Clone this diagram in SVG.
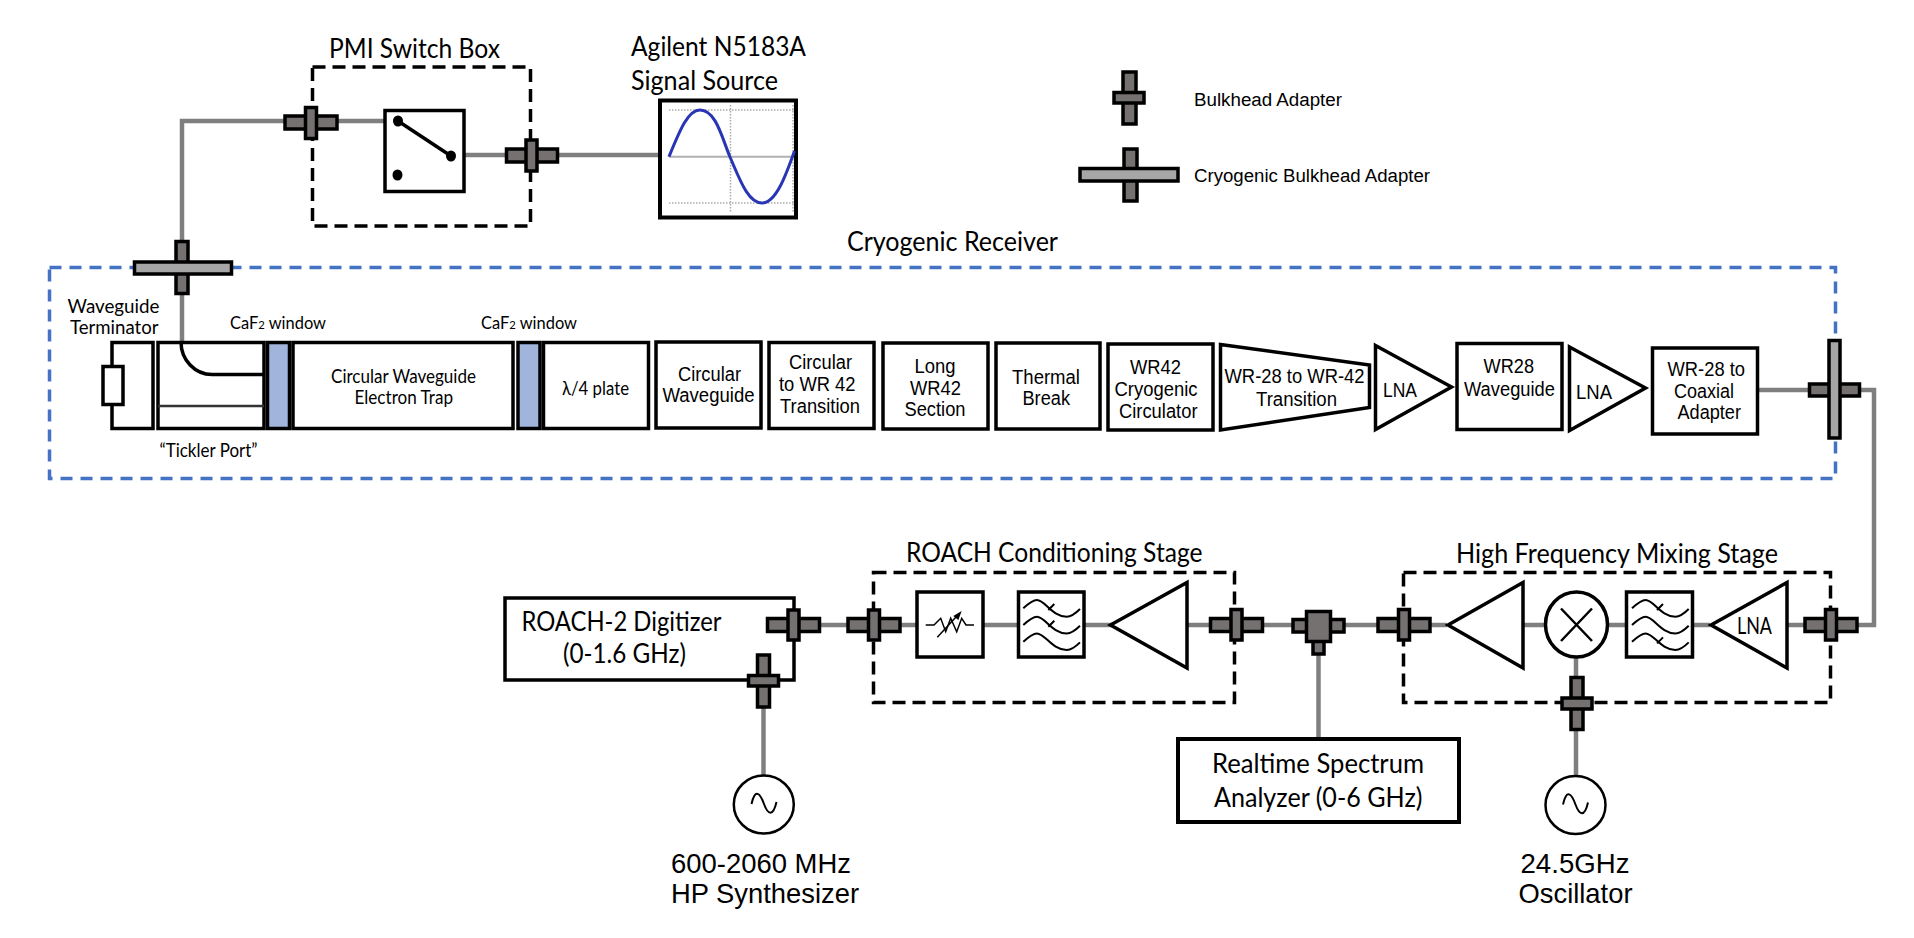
<svg xmlns="http://www.w3.org/2000/svg" width="1914" height="938" viewBox="0 0 1914 938">
<style>
.b{fill:#fff;stroke:#000;stroke-width:3.500}
.t{fill:#fff;stroke:#000;stroke-width:3.500;stroke-linejoin:miter}
.w{fill:#a0b4dc;stroke:#000;stroke-width:3.500}
.d{fill:#767171;stroke:#000;stroke-width:3.500}
.c{fill:#a6a6a6;stroke:#000;stroke-width:3.500}
.l{fill:none;stroke:#7f7f7f;stroke-width:4.500}
.k{fill:none;stroke:#000;stroke-width:3.500}
.k2{fill:none;stroke:#000;stroke-width:2}
.dash{fill:none;stroke:#000;stroke-width:3.500;stroke-dasharray:13 7}
.blue{fill:none;stroke:#4472c4;stroke-width:3.500;stroke-dasharray:12 8}
.grid{fill:none;stroke:#aaa;stroke-width:1.500;stroke-dasharray:1.500 1.500}
text{fill:#000;font-family:"Liberation Sans",Arial,sans-serif;font-size:19.500px}
.cal{font-family:Lato,"Noto Sans",sans-serif}
.lg{font-size:26px}
.md{font-size:19.500px}
.big{font-size:28px}
</style>
<g id="connectors">
<path class="l" d="M311 121H182V341"/>
<path class="l" d="M311 121H384"/>
<path class="l" d="M464 155H660"/>
<path class="l" d="M1758 390H1874V625H1830"/>
<path class="l" d="M794 625H1447"/>
<path class="l" d="M1524 625H1545M1608 625H1626M1693 625H1710M1787 625H1830"/>
<path class="l" d="M1318.500 640V738"/>
<path class="l" d="M1576 657V776"/>
<path class="l" d="M763.500 680V775"/>
</g>
<g id="switch-box">
<rect class="dash" x="312.500" y="67" width="218" height="159"/>
<text class="cal lg" x="329" y="58" textLength="171" lengthAdjust="spacingAndGlyphs">PMI Switch Box</text>
<rect class="b" x="385" y="110.500" width="79" height="81"/>
<path class="k" d="M398 121L451 156"/>
<ellipse cx="398" cy="121" rx="5" ry="5.500"/><ellipse cx="451" cy="156" rx="5" ry="5.500"/><ellipse cx="397.500" cy="175" rx="5" ry="5.500"/>
</g>
<g id="signal-source">
<text class="cal lg" x="631" y="56" textLength="175" lengthAdjust="spacingAndGlyphs">Agilent N5183A</text>
<text class="cal lg" x="631" y="90" textLength="147" lengthAdjust="spacingAndGlyphs">Signal Source</text>
<rect x="660" y="100.500" width="136" height="117" fill="#fff" stroke="#000" stroke-width="4"/>
<path class="grid" d="M669 110H794M669 203H794M730.500 105V212M793 105V212"/>
<path d="M669 156.700H794" fill="none" stroke="#b0b0b0" stroke-width="2"/>
<path d="M669 156.700C680 130 688 110 700 110C716 110 722 138 730 157C740 180 748 203 762 203C776 203 786 175 794.500 151" fill="none" stroke="#2a35b5" stroke-width="3"/>
</g>
<g id="legend-bulkhead">
<rect class="d" x="1123" y="72" width="13" height="52"/>
<rect class="d" x="1114" y="92.500" width="30" height="10.500"/>
<text x="1194" y="106" font-size="18" style="font-size:18px" textLength="148" lengthAdjust="spacingAndGlyphs">Bulkhead Adapter</text>
</g>
<g id="legend-cryo">
<rect class="d" x="1124" y="149" width="13" height="52"/>
<rect class="c" x="1080" y="168.500" width="98" height="12.500"/>
<text x="1194" y="182" style="font-size:18px" textLength="236" lengthAdjust="spacingAndGlyphs">Cryogenic Bulkhead Adapter</text>
</g>
<g id="cryogenic-receiver">
<rect class="blue" x="49.500" y="267.500" width="1786" height="211"/>
<text class="cal lg" x="847" y="251" textLength="211" lengthAdjust="spacingAndGlyphs">Cryogenic Receiver</text>
</g>
<g id="terminator">
<text class="cal md" x="67.500" y="312.500" textLength="92" lengthAdjust="spacingAndGlyphs">Waveguide</text>
<text class="cal md" x="70" y="334" textLength="88.500" lengthAdjust="spacingAndGlyphs">Terminator</text>
<rect class="b" x="112" y="342.500" width="41" height="86"/>
<rect class="b" x="103" y="366.500" width="20" height="38"/>
</g>
<g id="tickler">
<rect class="b" x="158" y="342.500" width="106" height="86"/>
<path class="k" d="M181 342C181 360 195 374.500 212 374.500H264"/>
<path d="M158 406H264" fill="none" stroke="#333" stroke-width="2.500"/>
<text class="cal" x="159.500" y="456.500" style="font-size:18.500px" textLength="98" lengthAdjust="spacingAndGlyphs">“Tickler Port”</text>
</g>
<g id="window-1">
<rect class="w" x="267.500" y="342.500" width="22" height="86"/>
<text class="cal" x="230" y="329" style="font-size:17.500px" textLength="96" lengthAdjust="spacingAndGlyphs">CaF<tspan style="font-size:12px">2</tspan> window</text>
</g>
<g id="trap">
<rect class="b" x="293" y="342.500" width="220" height="86"/>
<text class="cal" x="331" y="382.500" style="font-size:18.500px" textLength="145" lengthAdjust="spacingAndGlyphs">Circular Waveguide</text>
<text class="cal" x="354.500" y="404" style="font-size:18.500px" textLength="98.500" lengthAdjust="spacingAndGlyphs">Electron Trap</text>
</g>
<g id="window-2">
<rect class="w" x="518" y="342.500" width="22" height="86"/>
<text class="cal" x="481" y="329" style="font-size:17.500px" textLength="96" lengthAdjust="spacingAndGlyphs">CaF<tspan style="font-size:12px">2</tspan> window</text>
</g>
<g id="plate">
<rect class="b" x="543.500" y="342.500" width="105" height="86"/>
<text class="cal" x="562" y="395" style="font-size:18.500px" textLength="67" lengthAdjust="spacingAndGlyphs">λ/4 plate</text>
</g>
<g id="circular-waveguide">
<rect class="b" x="656" y="342" width="105" height="86"/>
<text x="678" y="381" textLength="63" lengthAdjust="spacingAndGlyphs">Circular</text>
<text x="662.500" y="401.500" textLength="92" lengthAdjust="spacingAndGlyphs">Waveguide</text>
</g>
<g id="circular-wr42">
<rect class="b" x="769" y="342.500" width="105" height="86"/>
<text x="789" y="369" textLength="63" lengthAdjust="spacingAndGlyphs">Circular</text>
<text x="779" y="391" textLength="76.500" lengthAdjust="spacingAndGlyphs">to WR 42</text>
<text x="780" y="413" textLength="80" lengthAdjust="spacingAndGlyphs">Transition</text>
</g>
<g id="long-wr42">
<rect class="b" x="883" y="343" width="105" height="86"/>
<text x="914.500" y="373" textLength="41" lengthAdjust="spacingAndGlyphs">Long</text>
<text x="910" y="395" textLength="51" lengthAdjust="spacingAndGlyphs">WR42</text>
<text x="904.500" y="416" textLength="61" lengthAdjust="spacingAndGlyphs">Section</text>
</g>
<g id="thermal-break">
<rect class="b" x="996" y="343" width="104" height="86"/>
<text x="1012" y="384" textLength="68" lengthAdjust="spacingAndGlyphs">Thermal</text>
<text x="1022.500" y="405" textLength="47.500" lengthAdjust="spacingAndGlyphs">Break</text>
</g>
<g id="circulator">
<rect class="b" x="1108" y="344" width="105" height="86"/>
<text x="1130" y="374" textLength="51" lengthAdjust="spacingAndGlyphs">WR42</text>
<text x="1114.500" y="396" textLength="83" lengthAdjust="spacingAndGlyphs">Cryogenic</text>
<text x="1119" y="417.500" textLength="78.500" lengthAdjust="spacingAndGlyphs">Circulator</text>
</g>
<g id="transition">
<path class="t" d="M1220.500 344.500L1369.500 365V407.500L1220.500 430Z"/>
<text x="1224.500" y="383" textLength="140" lengthAdjust="spacingAndGlyphs">WR-28 to WR-42</text>
<text x="1256" y="405.500" textLength="81" lengthAdjust="spacingAndGlyphs">Transition</text>
</g>
<g id="lna-1">
<path class="t" d="M1375.500 345.500L1451.500 387L1375.500 429.500Z"/>
<text x="1383" y="397" textLength="34" lengthAdjust="spacingAndGlyphs">LNA</text>
</g>
<g id="wr28">
<rect class="b" x="1457" y="343.500" width="105" height="86"/>
<text x="1483.500" y="372.500" textLength="50.500" lengthAdjust="spacingAndGlyphs">WR28</text>
<text x="1464" y="396" textLength="91" lengthAdjust="spacingAndGlyphs">Waveguide</text>
</g>
<g id="lna-2">
<path class="t" d="M1569.500 347L1645.500 388L1569.500 430.500Z"/>
<text x="1576" y="399" textLength="36" lengthAdjust="spacingAndGlyphs">LNA</text>
</g>
<g id="coax-adapter">
<rect class="b" x="1652.500" y="348" width="105" height="86"/>
<text x="1667.500" y="375.500" textLength="77.500" lengthAdjust="spacingAndGlyphs">WR-28 to</text>
<text x="1674" y="398" textLength="60" lengthAdjust="spacingAndGlyphs">Coaxial</text>
<text x="1677.500" y="419" textLength="63.500" lengthAdjust="spacingAndGlyphs">Adapter</text>
</g>
<g id="roach-digitizer">
<path class="k" d="M794 598H505V680H794Z"/>
<text class="cal lg" x="521.500" y="630.500" textLength="200" lengthAdjust="spacingAndGlyphs">ROACH-2 Digitizer</text>
<text class="cal lg" x="563" y="662.500" textLength="123" lengthAdjust="spacingAndGlyphs">(0-1.6 GHz)</text>
</g>
<g id="roach-stage">
<rect class="dash" x="873.500" y="572.500" width="361" height="130"/>
<text class="cal lg" x="906" y="562" textLength="296.500" lengthAdjust="spacingAndGlyphs">ROACH Conditioning Stage</text>
</g>
<g id="attenuator">
<rect class="b" x="917" y="592" width="66" height="65"/>
<path d="M925.700 625H934L940.700 618.300L945.700 631.700L950.700 618.300L956.700 631.700L961.700 618.300L966 625H974" fill="none" stroke="#000" stroke-width="1.500"/>
<path d="M937.300 637.300L956 617" fill="none" stroke="#000" stroke-width="1.500"/>
<path d="M961.700 611L953.300 616L958.300 620Z"/>
</g>
<g id="filter-1">
<rect class="b" x="1018.500" y="592" width="65.500" height="65"/>
<path class="k2" d="M1023.300 608.300C1029 603 1033 600 1037 600C1045 600 1052 616.700 1066.700 616.700C1071 616.700 1076 613 1080 609M1048.300 610L1054.300 604M1023.300 625C1029 619.700 1033 616.700 1037 616.700C1045 616.700 1052 633.400 1066.700 633.400C1071 633.400 1076 629.700 1080 625.700M1048.300 626.700L1054.300 620.700M1023.300 641.700C1029 636.400 1033 633.400 1037 633.400C1045 633.400 1052 650 1066.700 650C1071 650 1076 646.400 1080 642.400"/>
</g>
<g id="amp-roach">
<path class="t" d="M1110.500 625L1187 582.500V668Z"/>
</g>
<g id="t-adapter">
<rect class="d" x="1293" y="619.500" width="51" height="12.500"/>
<rect class="d" x="1313" y="641" width="11" height="13"/>
<rect class="d" x="1306.500" y="611.500" width="24" height="30"/>
</g>
<g id="realtime-analyzer">
<rect class="b" x="1178" y="739" width="281" height="83" style="stroke-width:4"/>
<text class="cal lg" x="1212" y="772.500" textLength="212" lengthAdjust="spacingAndGlyphs">Realtime Spectrum</text>
<text class="cal lg" x="1214" y="806.500" textLength="208.500" lengthAdjust="spacingAndGlyphs">Analyzer (0-6 GHz)</text>
</g>
<g id="hf-stage">
<rect class="dash" x="1403.500" y="572.500" width="427" height="130"/>
<text class="cal lg" x="1456" y="563" textLength="322" lengthAdjust="spacingAndGlyphs">High Frequency Mixing Stage</text>
</g>
<g id="amp-hf">
<path class="t" d="M1448 625L1523 582.500V668Z"/>
</g>
<g id="mixer">
<ellipse class="b" cx="1576.500" cy="624.500" rx="31" ry="32.500"/>
<path class="k" d="M1561 608.500L1592 641M1592 608.500L1561 641" style="stroke-width:2.500"/>
</g>
<g id="filter-2">
<rect class="b" x="1626.500" y="592" width="66" height="65"/>
<path class="k2" d="M1632 608.300C1637.700 603 1641.700 600 1645.700 600C1653.700 600 1660.700 616.700 1675.400 616.700C1679.700 616.700 1684.700 613 1688.700 609M1657 610L1663 604M1632 625C1637.700 619.700 1641.700 616.700 1645.700 616.700C1653.700 616.700 1660.700 633.400 1675.400 633.400C1679.700 633.400 1684.700 629.700 1688.700 625.700M1632 641.700C1637.700 636.400 1641.700 633.400 1645.700 633.400C1653.700 633.400 1660.700 650 1675.400 650C1679.700 650 1684.700 646.400 1688.700 642.400M1657 643.400L1663 637.400"/>
</g>
<g id="lna-3">
<path class="t" d="M1711 625L1787 582.500V668Z"/>
<text class="cal" x="1737" y="634" style="font-size:23px" textLength="35" lengthAdjust="spacingAndGlyphs">LNA</text>
</g>
<g id="hp-synth">
<ellipse class="k" cx="763.800" cy="804.500" rx="30" ry="29" style="stroke-width:2.500;fill:#fff"/>
<path class="k2" d="M751.500 804C755 788 760 793 764 804C768 815 773 817 776.500 802"/>
<text class="big" x="671" y="873" textLength="180" lengthAdjust="spacingAndGlyphs">600-2060 MHz</text>
<text class="big" x="671" y="902.500" textLength="188" lengthAdjust="spacingAndGlyphs">HP Synthesizer</text>
</g>
<g id="oscillator">
<ellipse class="k" cx="1575.500" cy="805" rx="30" ry="29" style="stroke-width:2.500;fill:#fff"/>
<path class="k2" d="M1563 804.500C1566.500 788.500 1571.500 793.500 1575.500 804.500C1579.500 815.500 1584.500 817.500 1588 802.500"/>
<text class="big" x="1520.500" y="873" textLength="109" lengthAdjust="spacingAndGlyphs">24.5GHz</text>
<text class="big" x="1518.500" y="903" textLength="114" lengthAdjust="spacingAndGlyphs">Oscillator</text>
</g>
<g id="bulkheads">
<g id="bh-1"><rect class="d" x="285" y="116" width="52" height="13"/><rect class="d" x="305.500" y="107.500" width="11" height="31"/></g>
<g id="bh-2"><rect class="d" x="506.500" y="149" width="51" height="13"/><rect class="d" x="526" y="140" width="11" height="31"/></g>
<g id="bh-cryo-1"><rect class="d" x="176" y="241.500" width="12" height="52"/><rect class="c" x="134.500" y="262" width="97" height="12"/></g>
<g id="bh-cryo-2"><rect class="d" x="1809.500" y="384" width="50" height="12"/><rect class="c" x="1829" y="340.500" width="11" height="97.500"/></g>
<g id="bh-3"><rect class="d" x="767.500" y="618.500" width="52" height="13"/><rect class="d" x="788" y="610" width="11" height="30"/></g>
<g id="bh-4"><rect class="d" x="757.500" y="655" width="12" height="52"/><rect class="d" x="748.500" y="675.500" width="30" height="10.500"/></g>
<g id="bh-5"><rect class="d" x="848" y="618.500" width="52" height="13"/><rect class="d" x="868.500" y="610" width="11" height="30"/></g>
<g id="bh-6"><rect class="d" x="1210.500" y="618.500" width="52" height="13"/><rect class="d" x="1231" y="609.500" width="11" height="30.500"/></g>
<g id="bh-7"><rect class="d" x="1378" y="618.500" width="52" height="13"/><rect class="d" x="1398.500" y="609.500" width="11" height="30.500"/></g>
<g id="bh-8"><rect class="d" x="1805" y="618.500" width="52" height="13"/><rect class="d" x="1825.500" y="609.500" width="11" height="30.500"/></g>
<g id="bh-9"><rect class="d" x="1571" y="677.500" width="12" height="52"/><rect class="d" x="1562" y="698" width="30" height="11"/></g>
</g>
</svg>
